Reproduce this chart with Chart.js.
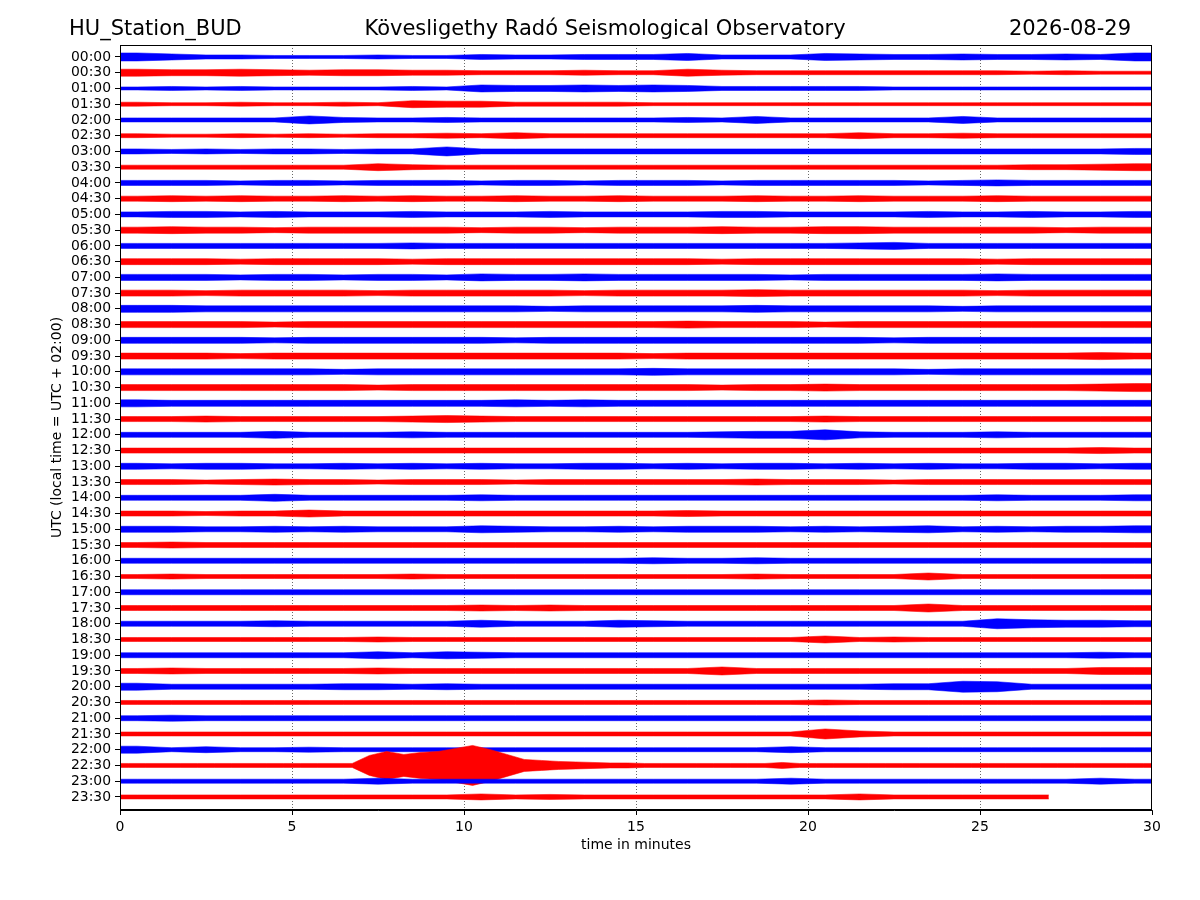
<!DOCTYPE html>
<html lang="en">
<head>
<meta charset="UTF-8">
<title>HU_Station_BUD helicorder</title>
<script src="https://cdn.jsdelivr.net/npm/chart.js"></script>
<style>
  body { margin: 0; background: #fff; }
  canvas { display: block; }
</style>
</head>
<body>
<canvas id="heli" width="1200" height="900"></canvas>
<script>
// row labels, top to bottom (one trace = 30 minutes)
const timeLabels = ['00:00','00:30','01:00','01:30','02:00','02:30','03:00','03:30',
  '04:00','04:30','05:00','05:30','06:00','06:30','07:00','07:30','08:00','08:30',
  '09:00','09:30','10:00','10:30','11:00','11:30','12:00','12:30','13:00','13:30',
  '14:00','14:30','15:00','15:30','16:00','16:30','17:00','17:30','18:00','18:30',
  '19:00','19:30','20:00','20:30','21:00','21:30','22:00','22:30','23:00','23:30'];

const xTicks = [0, 5, 10, 15, 20, 25, 30];

// trace envelope amplitude, one value per minute
const t0000 = [4,3,2,2,1.5,1.5,1.5,2,1.5,1.5,2.5,2,2,2.5,2.5,2.5,3.5,2,2,2,3.5,3,2.5,2.5,3,2.5,2.5,3,2.5,4];
const t0030 = [3.5,3,3,3.5,3,2.5,3,3,2.5,2.5,2,2,2,2.5,2,2,3.5,2.5,2,2,2,2,2,2,2,2,1.5,2,1.5,1.5];
const t0100 = [1.5,2,1.5,2,1.5,1.5,1.5,1.5,2,1.5,3.5,3,3,3.5,3,3.5,3,2,2,2,2,2,1.5,1.5,1.5,1.5,1.5,1.5,1.5,1.5];
const t0130 = [2,1.5,1.5,2,1.5,1.5,2,1.5,3.5,3,3,2,2,2,2,1.5,1.5,1.5,1.5,1.5,1.5,1.5,1.5,1.5,1.5,1.5,1.5,1.5,1.5,1.5];
const t0200 = [2,2,2,2,2,4,2.5,2,2,2.5,2,2,2,2,2,2,2.5,2,3.5,2,2,2,2,2,3.5,2,2,2,2,2];
const t0230 = [2,1.5,1.5,2,1.5,2,1.5,2,2,2.5,2,3,2,2,2,2,2,2,2,2,2,3,2,2,2.5,2,2,2,2,2];
const t0300 = [2.5,2,2.5,2,2.5,2.5,2,2.5,2.5,4.5,2.5,2.5,2.5,2.5,2.5,2.5,2.5,2.5,2.5,2.5,2.5,2.5,2.5,2.5,2.5,2.5,2.5,2.5,2.5,3];
const t0330 = [2,2,2,2,2,2,2,3.5,2.5,2,2,2,2,2,2,2,2,2,2,2,2,2,2,2,2,2,2.5,2.5,3,3.5];
const t0400 = [2.5,2.5,2.5,2,2.5,2.5,2,2.5,2.5,2.5,2,2.5,2.5,2,2.5,2.5,2.5,2,2.5,2.5,2.5,2.5,2.5,2,2.5,3,2.5,2.5,2.5,2.5];
const t0430 = [2.5,3,2.5,3,2.5,2.5,3,2.5,3,2.5,2.5,3,2.5,2.5,3,2.5,2.5,2.5,3,2.5,2.5,3,2.5,2.5,2.5,3,2.5,2.5,2.5,2.5];
const t0500 = [2.5,3,3,2.5,3,2.5,2.5,2.5,3,2.5,2.5,2.5,3,2.5,2.5,2.5,2.5,3,3,2.5,2.5,2.5,2.5,3,2.5,2.5,3,2.5,2.5,3];
const t0530 = [3,3.5,3,3,2.5,3,3,3,3,3,2.5,3,3,2.5,3,3,3,3.5,3,3,3.5,3.5,3,3,3,3,3,2.5,3,3];
const t0600 = [2.5,2.5,2.5,2.5,2.5,2.5,2.5,2.5,3,2.5,2.5,2.5,2.5,2.5,2.5,2.5,2.5,2.5,2.5,2.5,2.5,3,3.5,2.5,2.5,2.5,2.5,2.5,2.5,2.5];
const t0630 = [3,3,3,2.5,3,3,3,3,2.5,3,3,3,3,3,3,3,3,2.5,3,3,3,3,3,3,3,2.5,3,3,3,3];
const t0700 = [3,3,3,2.5,3,3,2.5,3,3,2.5,3.5,3,3,3.5,3,3,3,3,3,2.5,3,3,3,3,3,3.5,3,3,3,3];
const t0730 = [3,3,2.5,3,3,3,3,2.5,3,3,3,3,3,2.5,3,3,3,3,3.5,3,3,3,3,3,3,2.5,3,3,3,3];
const t0800 = [3.5,3.5,3,3,3,3,3,3,3,3,3,3,2.5,3,3,3,3,3,3.5,3,3,3,3,3,2.5,3,3,3,3,3];
const t0830 = [3,3,3,3,2.5,3,3,3,3,3,3,3,3,3,3,3,3.5,3,3,3,2.5,3,3,3,3,3,3,3,3,3];
const t0900 = [3,3,3,3,2.5,3,3,3,3,3,3,2.5,3,3,3,3,3,3,3,3,3,3,2.5,3,3,3,3,3,3,3];
const t0930 = [3,3,3,2.5,3,3,3,3,3,3,3,3,3,3,3,2.5,3,3,3,3,3,3,3,3,3,3,3,3,3.5,3];
const t1000 = [3,3,3,3,3,3,2.5,3,3,3,3,3,3,3,3,3.5,3,3,3,3,3,3,3,2.5,3,3,3,3,3,3];
const t1030 = [3,3,3,3,3,3,3,2.5,3,3,3,3,3,3,3,3,3,2.5,3,3,3.5,3,3,3,3,3,3,3,3.5,4];
const t1100 = [3.5,3,3,3,3,3,3,3,3,3,3,3.5,3,3.5,3,3,3,3,3,3,3,3,3,3,3,3,3,3,3,3];
const t1130 = [2.5,2.5,3,2.5,2.5,2.5,2.5,2.5,3,3.5,3,2.5,2.5,2.5,2.5,2.5,2.5,2.5,2.5,2.5,3,2.5,2.5,2.5,2.5,2.5,2.5,2.5,2.5,2.5];
const t1200 = [2.5,2.5,2.5,2.5,3.5,2.5,2.5,2.5,3,2.5,2.5,2.5,2.5,2.5,2.5,2.5,2.5,3,3.5,3.5,5,3,2.5,2.5,2.5,3,2.5,2.5,2.5,2.5];
const t1230 = [2.5,2.5,2.5,2.5,2.5,2.5,2.5,2.5,2.5,2.5,2.5,2.5,2.5,2.5,2.5,2.5,2.5,2.5,2.5,2.5,2.5,2.5,2.5,2.5,2.5,2.5,2.5,2.5,3,2.5];
const t1300 = [3,2.5,3,3,2.5,2.5,3,2.5,3,2.5,3,2.5,2.5,3,3,2.5,3,2.5,3,3,2.5,3,2.5,3,2.5,2.5,3,3,2.5,3];
const t1330 = [2.5,2.5,2,2.5,3,2.5,2.5,2,2.5,2.5,2.5,2,2.5,2.5,2.5,2.5,2.5,2.5,3,2.5,2.5,2.5,2,2.5,2.5,2.5,2.5,2.5,2.5,2.5];
const t1400 = [2.5,2.5,2.5,2.5,3.5,2.5,2.5,2.5,2.5,2.5,3,2.5,2.5,2.5,2.5,2.5,2.5,2.5,2.5,2.5,2.5,2.5,2.5,2.5,2.5,3,2.5,2.5,2.5,3];
const t1430 = [2.5,2.5,2,2.5,2.5,3.5,2.5,2.5,2.5,2.5,2.5,2.5,2.5,2.5,2.5,2.5,3,2.5,2.5,2.5,2.5,2.5,2.5,2.5,2.5,2.5,2.5,2.5,2.5,2.5];
const t1500 = [3,3,2.5,2.5,3,2.5,3,2.5,2.5,2.5,3.5,3,2.5,2.5,3,2.5,3,3,3,2.5,3,2.5,3,3.5,2.5,3,2.5,3,3,3.5];
const t1530 = [2.5,3,2.5,2.5,2.5,2.5,2.5,2.5,2.5,2.5,2.5,2.5,2.5,2.5,2.5,2.5,2.5,2.5,2.5,2.5,2.5,2.5,2.5,2.5,2.5,2.5,2.5,2.5,2.5,2.5];
const t1600 = [2.5,2.5,2.5,2.5,2.5,2.5,2.5,2.5,2.5,2.5,2.5,2.5,2.5,2.5,2.5,3,2.5,2.5,3,2.5,2.5,2.5,2.5,2.5,2.5,2.5,2.5,2.5,2.5,2.5];
const t1630 = [2,2.5,2,2,2,2,2,2,2.5,2,2,2,2,2,2,2,2,2,2.5,2,2,2,2,3.5,2,2,2,2,2,2];
const t1700 = [2.5,2.5,2.5,2.5,2.5,2.5,2.5,2.5,2.5,2.5,2.5,2.5,2.5,2.5,2.5,2.5,2.5,2.5,2.5,2.5,2.5,2.5,2.5,2.5,2.5,2.5,2.5,2.5,2.5,2.5];
const t1730 = [2.5,2.5,2.5,2.5,2.5,2.5,2.5,2.5,2.5,2.5,3,2.5,3,2.5,2.5,2.5,2.5,2.5,2.5,2.5,2.5,2.5,2.5,4,2.5,2.5,2.5,2.5,2.5,2.5];
const t1800 = [2.5,2.5,2.5,2.5,3,2.5,2.5,2.5,2.5,2.5,3.5,2.5,2.5,2.5,3.5,3,2.5,2.5,2.5,2.5,2.5,2.5,2.5,2.5,2.5,5,4,3.5,3.5,3];
const t1830 = [2,2,2,2,2,2,2,2.5,2,2,2,2,2,2,2,2,2,2,2,2,3.5,2,2.5,2,2,2,2,2,2,2];
const t1900 = [2.5,2.5,2.5,2.5,2.5,2.5,2.5,3.5,2.5,3.5,3,2.5,2.5,2.5,2.5,2.5,2.5,2.5,2.5,2.5,2.5,2.5,2.5,2.5,2.5,2.5,2.5,2.5,3,2.5];
const t1930 = [2.5,3,2.5,2.5,2.5,2.5,2.5,3,2.5,2.5,2.5,2.5,2.5,2.5,2.5,2.5,2.5,4,2.5,2.5,2.5,2.5,2.5,2.5,2.5,2.5,2.5,2.5,3.5,3.5];
const t2000 = [3.5,2.5,2.5,2.5,2.5,2.5,3,3,2.5,3,2.5,2.5,2.5,2.5,2.5,2.5,2.5,2.5,2.5,2.5,2.5,2.5,3,3,5.5,5,2.5,2.5,2.5,2.5];
const t2030 = [2,2,2,2,2,2,2,2,2,2,2,2,2,2,2,2,2,2,2,2,2.5,2,2,2,2,2,2,2,2,2];
const t2100 = [2.5,3,2.5,2.5,2.5,2.5,2.5,2.5,2.5,2.5,2.5,2.5,2.5,2.5,2.5,2.5,2.5,2.5,2.5,2.5,2.5,2.5,2.5,2.5,2.5,2.5,2.5,2.5,2.5,2.5];
const t2130 = [2,2,2,2,2,2,2,2,2,2,2,2,2,2,2,2,2,2,2,2,5,3,2,2,2,2,2,2,2,2];
const t2200 = [3.5,2,3,2,2,2.5,2,2,2,2,2,2,2,2,2,2,2,2,2,3,2,2,2,2,2,2,2,2,2,2];
// 22:30 holds the earthquake, read at half-minute steps
const t2230 = [2,2,2,2,2,2,2,2,2,2,2,2,2,2,10,14,11,13,14,17,20,16,11,6,5,4,3.5,3,2.5,2.5,
  2,2,2,2,2,2,2,2,3,2,2,2,2,2,2,2,2,2,2,2,2,2,2,2,2,2,2,2,2,2];
const t2300 = [2,2,2,2,2,2,2,3,2,2,2,2,2,2,2,2,2,2,2,3,2,2,2,2,2,2,2,2,3,2];
const t2330 = [2,2,2,2,2,2,2,2,2,2,3,2,2.5,2,2,2,2,2,2,2,2,3,2,2,2,2,2];

const traces = [t0000,t0030,t0100,t0130,t0200,t0230,t0300,t0330,t0400,t0430,t0500,t0530,
  t0600,t0630,t0700,t0730,t0800,t0830,t0900,t0930,t1000,t1030,t1100,t1130,
  t1200,t1230,t1300,t1330,t1400,t1430,t1500,t1530,t1600,t1630,t1700,t1730,
  t1800,t1830,t1900,t1930,t2000,t2030,t2100,t2130,t2200,t2230,t2300,t2330];

const AMP = 1 / 15.75;   // amplitude units -> row spacing
const FONT = 'DejaVu Sans';

function edge(amps, row, sign) {
  const step = amps === t2230 ? 0.5 : 1;   // minutes per value
  const pts = [{ x: 0, y: row + sign * amps[0] * AMP }];
  amps.forEach((a, k) => pts.push({ x: (k + 0.5) * step, y: row + sign * a * AMP }));
  pts.push({ x: amps.length * step, y: row + sign * amps[amps.length - 1] * AMP });
  return pts;
}

const datasets = [];
traces.forEach((amps, row) => {
  const col = row % 2 === 0 ? '#0000ff' : '#ff0000';
  const edgeCol = row % 2 === 0 ? 'rgba(0,0,255,0.55)' : 'rgba(255,0,0,0.55)';
  datasets.push({ data: edge(amps, row, -1), borderColor: edgeCol, backgroundColor: col,
    borderWidth: 1, pointRadius: 0, fill: false, order: 100 - row });
  datasets.push({ data: edge(amps, row, 1), borderColor: edgeCol, backgroundColor: col,
    borderWidth: 1, pointRadius: 0, fill: '-1', order: 100 - row });
});

// titles, axis titles and the box round the plot
const decor = {
  id: 'decor',
  afterDraw(chart) {
    const { ctx, chartArea: a } = chart;
    ctx.save();
    ctx.fillStyle = '#000';
    ctx.font = '21px "' + FONT + '"';
    ctx.textBaseline = 'alphabetic';
    ctx.textAlign = 'left';
    ctx.fillText('HU_Station_BUD', 69, 35);
    ctx.textAlign = 'center';
    ctx.fillText('Kövesligethy Radó Seismological Observatory', 605, 35);
    ctx.textAlign = 'right';
    ctx.fillText('2026-08-29', 1131, 35);

    ctx.font = '14px "' + FONT + '"';
    ctx.textAlign = 'center';
    ctx.textBaseline = 'middle';
    ctx.fillText('time in minutes', (a.left + a.right) / 2, 845);
    ctx.translate(57, (a.top + a.bottom) / 2);
    ctx.rotate(-Math.PI / 2);
    ctx.fillText('UTC (local time = UTC + 02:00)', 0, 0);
    ctx.restore();

    ctx.save();
    ctx.strokeStyle = '#000';
    ctx.lineWidth = 1;
    ctx.strokeRect(a.left + 0.5, a.top + 0.5, a.right - a.left - 1, a.bottom - a.top - 1);
    ctx.restore();
  }
};

new Chart(document.getElementById('heli'), {
  type: 'line',
  data: { datasets: datasets },
  options: {
    responsive: false,
    animation: false,
    devicePixelRatio: 1,
    layout: { padding: { left: 0, top: 45, right: 48, bottom: 0 } },
    plugins: { legend: { display: false }, tooltip: { enabled: false } },
    elements: { line: { tension: 0 } },
    scales: {
      x: {
        type: 'linear', min: 0, max: 30,
        afterBuildTicks: s => { s.ticks = xTicks.map(v => ({ value: v })); },
        afterFit: s => { s.height = 90; },
        ticks: { color: '#000', font: { family: FONT, size: 14 }, padding: 4, maxRotation: 0 },
        grid: {
          color: c => (c.tick && (c.tick.value === 0 || c.tick.value === 30)) ? 'rgba(0,0,0,0)' : '#444',
          lineWidth: 0.8, tickColor: '#000', tickLength: 5, tickWidth: 1
        },
        border: { color: '#000', dash: [1, 2] }
      },
      y: {
        type: 'linear', reverse: true, min: -0.76, max: 47.83,
        afterBuildTicks: s => { s.ticks = timeLabels.map((_, i) => ({ value: i })); },
        afterFit: s => { s.width = 120; },
        ticks: { color: '#000', font: { family: FONT, size: 13.9 }, padding: 4, autoSkip: false,
          callback: v => timeLabels[v] },
        grid: { drawOnChartArea: false, tickColor: '#000', tickLength: 5, tickWidth: 1 },
        border: { color: '#000' }
      }
    }
  },
  plugins: [decor]
});
</script>
</body>
</html>
